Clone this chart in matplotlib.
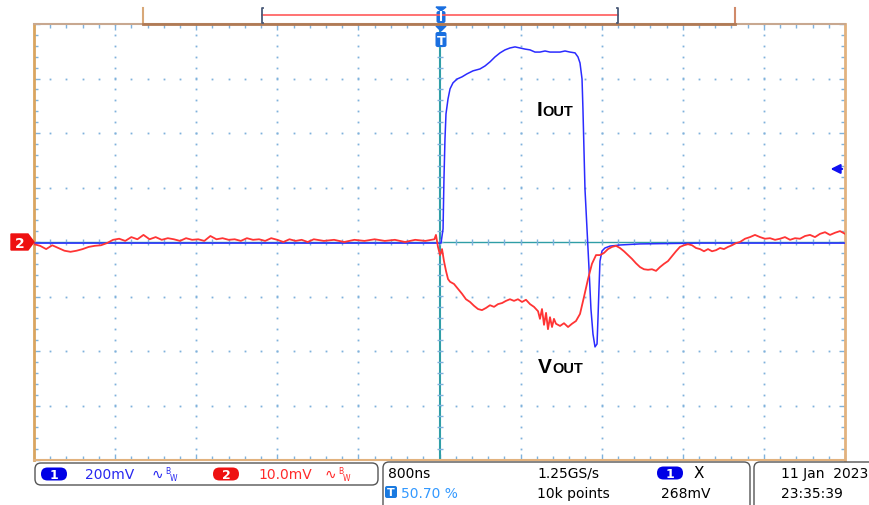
import matplotlib
matplotlib.use("Agg")
import matplotlib.pyplot as plt
from matplotlib.patches import FancyBboxPatch, Polygon
from matplotlib.ticker import MultipleLocator
import numpy as np

# ── Scope settings ────────────────────────────────────────────────────────────
TIME_DIV_US = 0.8       # 800 ns/div
CH1_MV_DIV = 200.0      # Iout probe, 200 mV/div
CH2_MV_DIV = 10.0       # Vout, 10 mV/div
TRIG_LEVEL_MV = 268.0

# ── Channel 2 (Vout, red) : time in us, value in mV ──────────────────────────
vout_t = [-4.00, -3.94, -3.88, -3.82, -3.76, -3.70, -3.64, -3.58, -3.52, -3.46,
          -3.40, -3.34, -3.28, -3.22, -3.16, -3.10, -3.04, -2.98, -2.92, -2.86,
          -2.80, -2.74, -2.68, -2.62, -2.56, -2.50, -2.44, -2.38, -2.32, -2.26,
          -2.20, -2.14, -2.08, -2.02, -1.96, -1.90, -1.84, -1.78, -1.72, -1.66,
          -1.60, -1.54, -1.48, -1.42, -1.36, -1.30, -1.24, -1.14, -1.04, -0.94,
          -0.84, -0.74, -0.64, -0.54, -0.44, -0.34, -0.24, -0.14, -0.05, -0.035,
          -0.015, 0.005, 0.025, 0.044, 0.064, 0.084, 0.104, 0.143, 0.182, 0.222,
          0.261, 0.301, 0.340, 0.380, 0.419, 0.459, 0.498, 0.538, 0.577, 0.617,
          0.656, 0.695, 0.735, 0.774, 0.814, 0.853, 0.893, 0.932, 0.972, 0.991,
          1.011, 1.031, 1.051, 1.070, 1.090, 1.110, 1.129, 1.149, 1.189, 1.228,
          1.268, 1.307, 1.346, 1.386, 1.425, 1.465, 1.504, 1.544, 1.583, 1.623,
          1.662, 1.702, 1.741, 1.780, 1.820, 1.859, 1.899, 1.938, 1.978, 2.017,
          2.057, 2.096, 2.136, 2.175, 2.215, 2.254, 2.293, 2.333, 2.372, 2.412,
          2.451, 2.491, 2.530, 2.570, 2.609, 2.649, 2.688, 2.728, 2.767, 2.806,
          2.846, 2.885, 2.925, 2.964, 3.014, 3.063, 3.112, 3.162, 3.211, 3.260,
          3.310, 3.359, 3.408, 3.458, 3.507, 3.556, 3.606, 3.655, 3.704, 3.754,
          3.803, 3.852, 3.902, 3.951, 4.000]
vout_mv = [-0.4, -0.7, -1.3, -0.6, -1.1, -1.6, -1.8, -1.6, -1.3, -0.9,
           -0.7, -0.6, -0.2, 0.4, 0.6, 0.2, 0.9, 0.5, 1.3, 0.5,
           0.9, 0.4, 0.7, 0.5, 0.2, 0.7, 0.4, 0.5, 0.2, 1.1,
           0.5, 0.7, 0.4, 0.5, 0.2, 0.7, 0.4, 0.5, 0.2, 0.7,
           0.4, 0.0, 0.5, 0.2, 0.4, 0.0, 0.5, 0.2, 0.4, 0.0,
           0.4, 0.2, 0.5, 0.2, 0.4, 0.0, 0.4, 0.2, 0.5, 1.3,
           -0.9, -2.4, -1.3, -3.5, -5.3, -6.8, -7.3, -7.7, -8.6, -9.5,
           -10.5, -11.0, -11.7, -12.3, -12.5, -12.1, -11.6, -11.9, -11.4, -11.2,
           -10.8, -10.5, -10.8, -10.5, -11.0, -10.6, -11.4, -11.9, -12.7, -14.1,
           -12.3, -15.2, -13.0, -16.0, -13.8, -15.6, -14.1, -15.0, -15.4, -14.9,
           -15.6, -15.0, -14.5, -13.2, -10.1, -6.8, -4.0, -2.4, -2.4, -2.0,
           -1.3, -0.9, -0.7, -1.1, -1.7, -2.4, -3.1, -3.9, -4.6, -5.0,
           -5.1, -5.0, -5.3, -4.6, -4.0, -3.5, -2.6, -1.7, -0.9, -0.6,
           -0.4, -0.6, -1.1, -1.3, -1.7, -1.3, -1.7, -1.5, -1.1, -1.3,
           -0.9, -0.6, -0.2, 0.0, 0.6, 0.9, 1.3, 0.9, 0.6, 0.7,
           0.4, 0.6, 0.9, 0.4, 0.7, 0.6, 1.1, 1.3, 0.9, 1.5,
           1.8, 1.3, 1.7, 2.0, 1.5]

# ── Channel 1 (Iout sense, blue) : time in us, value in mV ───────────────────
iout_t = [-4.00, -2.36, -0.39, 0.015, 0.035, 0.044, 0.054, 0.064, 0.084, 0.104,
          0.133, 0.173, 0.222, 0.271, 0.330, 0.399, 0.449, 0.498, 0.547, 0.597,
          0.646, 0.695, 0.745, 0.794, 0.843, 0.893, 0.942, 0.991, 1.041, 1.090,
          1.139, 1.189, 1.238, 1.287, 1.337, 1.366, 1.386, 1.406, 1.415, 1.425,
          1.435, 1.455, 1.475, 1.494, 1.514, 1.534, 1.554, 1.563, 1.573, 1.583,
          1.603, 1.632, 1.682, 1.780, 1.978, 2.570, 4.000]
iout_mv = [-4, -4, -4, -4, 48, 231, 378, 470, 525, 562,
           584, 598, 606, 617, 628, 635, 646, 661, 679, 694,
           705, 712, 716, 712, 708, 705, 697, 697, 701, 697,
           697, 697, 701, 697, 694, 679, 657, 598, 488, 341,
           195, 48, -99, -246, -338, -385, -374, -283, -172, -70,
           -33, -22, -15, -11, -7, -4, -4]

FIG_W, FIG_H = 869, 506
BLUE = "#2b2bff"
RED = "#ff3434"
DOT = "#7fb2dc"
TEAL = "#2f9ea6"

fig = plt.figure(figsize=(FIG_W / 100, FIG_H / 100), dpi=100)
fig.patch.set_facecolor("white")

# ── Scope graticule ──────────────────────────────────────────────────────────
ax = fig.add_axes([34 / FIG_W, (FIG_H - 461) / FIG_H, 811 / FIG_W, 436 / FIG_H])
ax.set_xlim(-5 * TIME_DIV_US, 5 * TIME_DIV_US)
ax.set_ylim(-4, 4)
ax.xaxis.set_major_locator(MultipleLocator(TIME_DIV_US))
ax.xaxis.set_minor_locator(MultipleLocator(TIME_DIV_US / 5))
ax.yaxis.set_major_locator(MultipleLocator(1))
ax.yaxis.set_minor_locator(MultipleLocator(0.2))
ax.tick_params(which="both", direction="in", top=True, right=True,
               labelbottom=False, labelleft=False, color=DOT, width=1)
ax.tick_params(which="major", length=4)
ax.tick_params(which="minor", length=3)
ax.spines["left"].set_color("#d9a560"); ax.spines["left"].set_linewidth(2)
ax.spines["right"].set_color("#e2b27e"); ax.spines["right"].set_linewidth(2)
ax.spines["bottom"].set_color("#e2b27e"); ax.spines["bottom"].set_linewidth(1.5)
ax.spines["top"].set_color("#c8a890"); ax.spines["top"].set_linewidth(1.5)

# dotted grid (skip centre lines, they get tick marks instead)
xmaj = [k * TIME_DIV_US for k in range(-4, 5) if k != 0]
ymaj = [k for k in range(-3, 4) if k != 0]
xfine = np.arange(-4.0, 4.001, TIME_DIV_US / 5)
yfine = np.arange(-4.0, 4.001, 0.2)
for xv in xmaj:
    ax.plot([xv] * len(yfine), yfine, ls="none", marker="s", ms=1.3,
            color=DOT, mew=0, zorder=1)
for yv in ymaj:
    ax.plot(xfine, [yv] * len(xfine), ls="none", marker="s", ms=1.3,
            color=DOT, mew=0, zorder=1)

# centre cross with small ticks
ax.axvline(0, color=TEAL, lw=1.5, zorder=2)
ax.axhline(0, color=TEAL, lw=1.0, zorder=2)
ax.plot([0] * len(yfine), yfine, ls="none", marker="_", ms=4, color=DOT,
        zorder=2)
ax.plot(xfine, [0] * len(xfine), ls="none", marker="|", ms=4, color=DOT,
        zorder=2)

# ── Traces ───────────────────────────────────────────────────────────────────
ax.plot(iout_t, np.array(iout_mv) / CH1_MV_DIV, color=BLUE, lw=1.1, zorder=3)
ax.plot(vout_t, np.array(vout_mv) / CH2_MV_DIV, color=RED, lw=1.3, zorder=4)

# trigger level arrow on the right edge
ax.annotate("", xy=(3.83, TRIG_LEVEL_MV / CH1_MV_DIV),
            xytext=(4.0, TRIG_LEVEL_MV / CH1_MV_DIV),
            arrowprops=dict(arrowstyle="-|>", color="#1010f0", lw=1.5,
                            mutation_scale=14), zorder=6)

# ── Overlay in pixel coordinates for the scope chrome ────────────────────────
ov = fig.add_axes([0, 0, 1, 1], zorder=5)
ov.set_xlim(0, FIG_W)
ov.set_ylim(FIG_H, 0)
ov.axis("off")
ov.patch.set_alpha(0)

# record-length bracket at the top
ov.plot([143, 143], [9, 25], color="#d8a878", lw=1.5)
ov.plot([735, 735], [9, 25], color="#d08a6a", lw=1.5)
ov.plot([143, 735], [25, 25], color="#b07a55", lw=2)
ov.plot([262, 618], [16, 16], color="#ff5a5a", lw=1.2)
ov.plot([263, 262, 262, 263], [9, 9, 24, 24], color="#4a5a78", lw=1.3)
ov.plot([617, 618, 618, 617], [9, 9, 24, 24], color="#4a5a78", lw=1.3)

# trigger position markers
ov.add_patch(Polygon([[436, 8], [446, 8], [441, 12]], closed=True,
                     color="#1a6fe0"))
ov.add_patch(FancyBboxPatch((436.5, 12), 9, 12, boxstyle="round,pad=0,rounding_size=2",
                            fc="#1a6fe0", ec="none"))
ov.plot([441, 441], [13, 21], color="white", lw=1.5)
ov.add_patch(Polygon([[436, 27], [446, 27], [441, 32]], closed=True,
                     color="#1a6fe0"))
ov.add_patch(FancyBboxPatch((435.5, 33), 11, 15, boxstyle="round,pad=0,rounding_size=2",
                            fc="#1a6fe0", ec="none"))
ov.text(441, 41, "T", color="white", fontsize=9, fontweight="bold",
        ha="center", va="center")

# channel 2 ground marker
ov.add_patch(Polygon([[11, 235], [28, 235], [34, 243], [28, 251], [11, 251]],
                     closed=True, color="#ee1111"))
ov.text(20, 243.5, "2", color="white", fontsize=10, fontweight="bold",
        ha="center", va="center")

# trace labels
lab = dict(color="black", fontweight="bold", family="Liberation Sans",
           va="baseline", ha="left")
ov.text(537, 116, "I", fontsize=15, **lab)
ov.text(542, 116, "OUT", fontsize=10.5, **lab)
ov.text(538, 373, "V", fontsize=15, **lab)
ov.text(552, 373, "OUT", fontsize=10.5, **lab)

# ── Status bar ───────────────────────────────────────────────────────────────
box = dict(boxstyle="round,pad=0,rounding_size=6", fc="white", ec="#555555",
           lw=1.0)
ov.add_patch(FancyBboxPatch((35, 464), 343, 22, **box))
ov.add_patch(FancyBboxPatch((383, 463), 367, 50, **box))
ov.add_patch(FancyBboxPatch((754, 463), 130, 50, **box))

st = dict(fontsize=10, family="DejaVu Sans", va="center", ha="left")


def pill(x, y, label, colour):
    ov.add_patch(FancyBboxPatch((x - 13, y - 6.5), 26, 13,
                                boxstyle="round,pad=0,rounding_size=6.5",
                                fc=colour, ec="none"))
    ov.text(x, y + 0.5, label, color="white", fontsize=9, fontweight="bold",
            ha="center", va="center")


def bw_icon(x, y, colour):
    ov.text(x, y, "∿", color=colour, fontsize=10, ha="left", va="center")
    ov.text(x + 13, y - 3.5, "B", color=colour, fontsize=5.5, ha="left",
            va="center")
    ov.text(x + 18, y + 3.5, "W", color=colour, fontsize=5.5, ha="left",
            va="center")


pill(54, 475, "1", "#0000e6")
ov.text(85, 475, "200mV", color="#2828f0", **st)
bw_icon(152, 475, "#2828f0")

pill(226, 475, "2", "#ee1111")
ov.text(258, 475, "10.0mV", color="#ff2a2a", **st)
bw_icon(325, 475, "#ff2a2a")

ov.text(388, 474, "800ns", color="black", **st)
ov.text(537, 474, "1.25GS/s", color="black", **st)
pill(670, 474, "1", "#0000e6")
ov.text(694, 474, "X", color="black", fontsize=11, va="center", ha="left")
ov.add_patch(FancyBboxPatch((385, 487), 12, 12, boxstyle="round,pad=0,rounding_size=2",
                            fc="#1a7ae0", ec="none"))
ov.text(391, 493.5, "T", color="white", fontsize=8, fontweight="bold",
        ha="center", va="center")
ov.text(401, 494, "50.70 %", color="#3399ff", **st)
ov.text(537, 494, "10k points", color="black", **st)
ov.text(661, 494, "268mV", color="black", **st)

ov.text(781, 474, "11 Jan  2023", color="black", **st)
ov.text(781, 494, "23:35:39", color="black", **st)

fig.savefig("out.png", dpi=100)
